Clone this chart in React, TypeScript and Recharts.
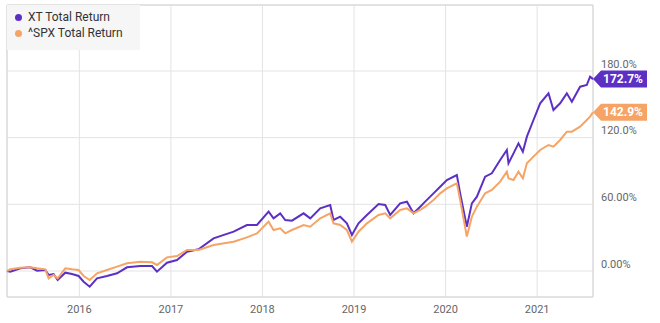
import { LineChart, Line, XAxis, YAxis, CartesianGrid, Legend, ReferenceArea, ReferenceDot } from "recharts"

// decimal years (x) and total return in % for each series
const dates = [
  2015.21, 2015.247, 2015.356, 2015.465, 2015.538, 2015.629, 2015.665, 2015.719, 2015.763, 2015.847,
  2015.92, 2015.992, 2016.047, 2016.113, 2016.193, 2016.302, 2016.412, 2016.521, 2016.666, 2016.794,
  2016.848, 2016.957, 2017.067, 2017.176, 2017.302, 2017.466, 2017.685, 2017.83, 2017.94, 2018.067,
  2018.121, 2018.194, 2018.249, 2018.322, 2018.449, 2018.522, 2018.631, 2018.74, 2018.776, 2018.849,
  2018.922, 2018.977, 2019.049, 2019.141, 2019.268, 2019.341, 2019.395, 2019.504, 2019.578, 2019.65,
  2019.723, 2019.777, 2019.868, 2019.941, 2020.014, 2020.123, 2020.159, 2020.232, 2020.287, 2020.342,
  2020.432, 2020.505, 2020.596, 2020.669, 2020.687, 2020.742, 2020.796, 2020.844, 2020.888, 2020.96,
  2021.033, 2021.124, 2021.178, 2021.251, 2021.324, 2021.379, 2021.469, 2021.542, 2021.578, 2021.61
]

const xtReturn = [
  0, -0.6, 2.4, 3.3, 0.3, 0.9, -3.6, -2.7, -8.1, -1.5,
  -2.7, -4.5, -9.6, -14.1, -6.6, -4.5, -2.1, 3.3, 4.5, 4.5,
  -0.6, 7.5, 9.9, 17.4, 19.5, 29.4, 35.4, 41.4, 41.4, 53.4,
  47.4, 51.9, 45.9, 45.3, 51.9, 47.4, 56.4, 59.4, 45.9, 48.9,
  42.9, 32.4, 42.9, 50.4, 60.3, 59.4, 50.4, 60.9, 62.4, 51.9,
  57.9, 62.4, 69.9, 75.9, 81.9, 86.4, 69.9, 39.9, 60.9, 66.9,
  84.9, 87.9, 99.9, 108.9, 96.9, 105.9, 114.9, 107.4, 120.9, 135.9,
  150.9, 159.9, 144.9, 150.9, 159.9, 152.4, 165.9, 167.4, 174.9, 172.7
]

const spxReturn = [
  0, 1.5, 3.0, 3.3, 2.4, 1.5, -6.6, -3.6, -6.6, 2.4,
  1.5, 0.9, -4.5, -8.1, -2.1, 0.9, 3.9, 6.9, 8.4, 7.8,
  5.4, 12.3, 13.5, 18.9, 18.9, 23.4, 26.4, 30.3, 33.9, 44.4,
  36.9, 38.4, 33.9, 36.9, 41.4, 39.9, 47.4, 51.9, 42.9, 41.4,
  36.9, 26.4, 35.4, 42.9, 50.4, 51.9, 47.4, 54.9, 56.4, 51.9,
  54.9, 57.9, 63.9, 69.9, 74.4, 78.9, 63.9, 31, 48.9, 57.9,
  69.9, 72.9, 80.4, 89.4, 83.4, 81.9, 89.4, 83.4, 96.9, 102.9,
  108.9, 113.4, 111.9, 117.9, 125.4, 125.4, 129.9, 135.9, 138.9, 142.9
]

const xTicks = [2016, 2017, 2018, 2019, 2020, 2021]
const yTicks = [0, 60, 120, 180]
const yTickLabels = ["0.00%", "60.00%", "120.0%", "180.0%"]

const xDomain = [2015.21, 2021.61]
const yDomain = [-23.4, 239.4]

const XT_COLOR = "#5c30c4"
const SPX_COLOR = "#f6a466"
const FONT = "Roboto, sans-serif"

const data = dates.map((t, i) => ({ t, xt: xtReturn[i], spx: spxReturn[i] }))
const last = dates.length - 1

const YTick = ({ x, y, payload }: any) => {
  const i = yTicks.indexOf(payload.value)
  return (
    <text x={x} y={y - 7} fill="#666" fontSize={11} fontFamily={FONT} textAnchor="start" dominantBaseline="central">
      {yTickLabels[i]}
    </text>
  )
}

// flag-shaped tag with the last value, pointing at the right axis
const tagShape = (color: string, value: number) => (props: any) => {
  const { cx, cy } = props
  const x = cx
  const h = 8.5
  return (
    <g>
      <polygon
        points={`${x},${cy} ${x + 8},${cy - h} ${x + 54},${cy - h} ${x + 54},${cy + h} ${x + 8},${cy + h}`}
        fill={color}
      />
      <text x={x + 30} y={cy} fill="#fff" fontSize={12} fontWeight="bold" fontFamily={FONT} textAnchor="middle" dominantBaseline="central">
        {value.toFixed(1)}%
      </text>
    </g>
  )
}

const LegendBox = ({ payload }: any) => (
  <div style={{ padding: "4px 0 0 8px", fontFamily: FONT, fontSize: 12, color: "#333" }}>
    {(payload || []).map((p: any) => (
      <div key={p.value} style={{ display: "flex", alignItems: "center", height: 16 }}>
        <span style={{ width: 7, height: 7, borderRadius: "50%", background: p.color, marginRight: 6, display: "inline-block" }} />
        {p.value}
      </div>
    ))}
  </div>
)

export default function App() {
  return (
    <div style={{ position: "absolute", left: 0, top: 0, width: 660, height: 323, background: "#fff", fontFamily: FONT }}>
      <LineChart width={660} height={323} data={data} margin={{ top: 5, right: 0, bottom: 0, left: 7 }}>
        <CartesianGrid stroke="#e3e3e3" strokeWidth={1} />
        <ReferenceArea x1={xDomain[0]} x2={xDomain[1]} y1={yDomain[0]} y2={yDomain[1]} fill="none" stroke="#d4d4d4" strokeWidth={1} />
        <XAxis
          dataKey="t"
          type="number"
          domain={xDomain}
          ticks={xTicks}
          height={26}
          axisLine={false}
          tickLine={false}
          tick={{ fill: "#666", fontSize: 11, fontFamily: FONT }}
        />
        <YAxis
          orientation="right"
          type="number"
          domain={yDomain}
          ticks={yTicks}
          width={67}
          axisLine={false}
          tickLine={false}
          tick={<YTick />}
        />
        <Legend
          layout="vertical"
          align="center"
          verticalAlign="middle"
          wrapperStyle={{ left: 7, top: 5, width: 133, height: 45, background: "#f6f6f6" }}
          content={<LegendBox />}
        />
        <Line name="XT Total Return" dataKey="xt" type="linear" stroke={XT_COLOR} strokeWidth={2} dot={false} isAnimationActive={false} />
        <Line name="^SPX Total Return" dataKey="spx" type="linear" stroke={SPX_COLOR} strokeWidth={2} dot={false} isAnimationActive={false} />
        <ReferenceDot x={dates[last]} y={spxReturn[last]} r={0} shape={tagShape(SPX_COLOR, spxReturn[last])} />
        <ReferenceDot x={dates[last]} y={xtReturn[last]} r={0} shape={tagShape(XT_COLOR, xtReturn[last])} />
      </LineChart>
    </div>
  )
}
